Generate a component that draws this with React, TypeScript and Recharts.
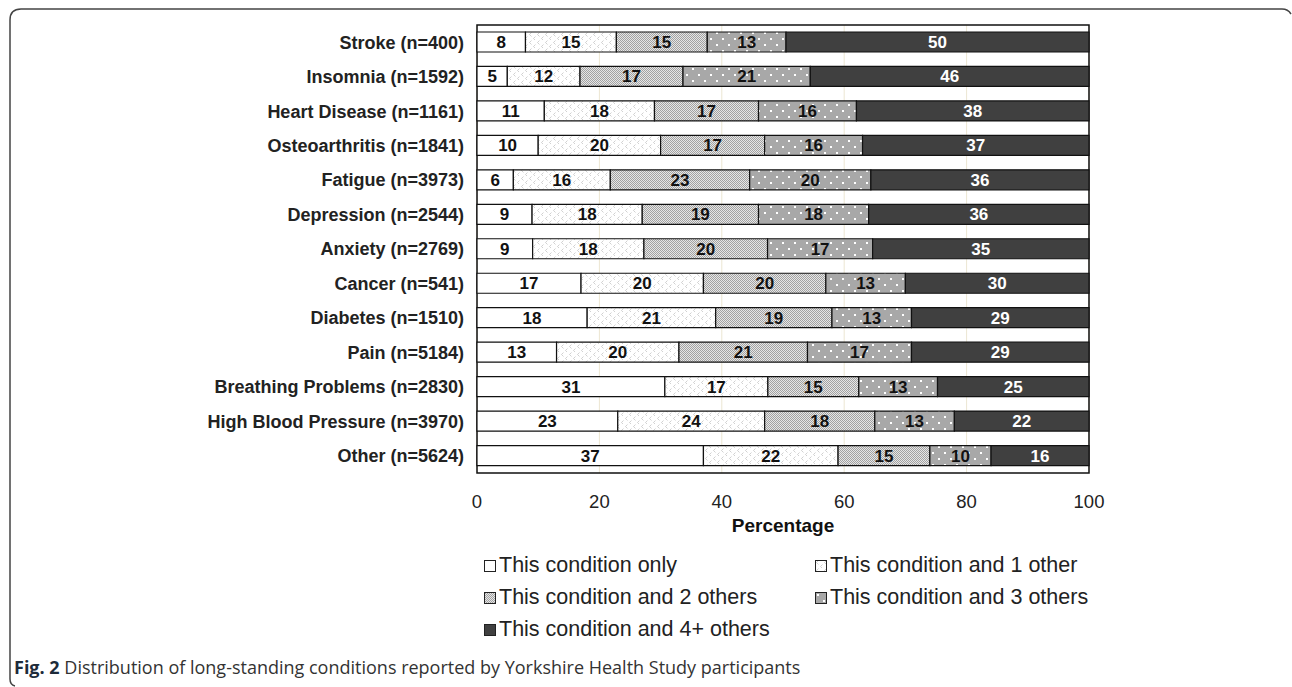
import React from 'react'
import {
  Bar,
  BarChart,
  CartesianGrid,
  LabelList,
  ReferenceArea,
  XAxis,
  YAxis
} from "recharts";

const conditions = [
  "Stroke (n=400)",
  "Insomnia (n=1592)",
  "Heart Disease (n=1161)",
  "Osteoarthritis (n=1841)",
  "Fatigue (n=3973)",
  "Depression (n=2544)",
  "Anxiety (n=2769)",
  "Cancer (n=541)",
  "Diabetes (n=1510)",
  "Pain (n=5184)",
  "Breathing Problems (n=2830)",
  "High Blood Pressure (n=3970)",
  "Other (n=5624)"
];

const onlyThis = [8, 5, 11, 10, 6, 9, 9, 17, 18, 13, 31, 23, 37];
const plusOne = [15, 12, 18, 20, 16, 18, 18, 20, 21, 20, 17, 24, 22];
const plusTwo = [15, 17, 17, 17, 23, 19, 20, 20, 19, 21, 15, 18, 15];
const plusThree = [13, 21, 16, 16, 20, 18, 17, 13, 13, 17, 13, 13, 10];
const plusFour = [50, 46, 38, 37, 36, 36, 35, 30, 29, 29, 25, 22, 16];

const seriesNames = [
  "This condition only",
  "This condition and 1 other",
  "This condition and 2 others",
  "This condition and 3 others",
  "This condition and 4+ others"
];

const xTicks = [0, 20, 40, 60, 80, 100];

const data = conditions.map((name, i) => ({
  name,
  s0: onlyThis[i],
  s1: plusOne[i],
  s2: plusTwo[i],
  s3: plusThree[i],
  s4: plusFour[i]
}));

const fills = ["#ffffff", "url(#pOne)", "url(#pTwo)", "url(#pThree)", "#404040"];
const font = "'Liberation Sans', Arial, sans-serif";

export default function App() {
  return (
    <div style={{ position: 'absolute', left: 0, top: 0, width: 1292, height: 687, background: '#fff', fontFamily: font }}>
      <svg width={1292} height={687} style={{ position: 'absolute', left: 0, top: 0 }}>
        <path
          d="M 15 686 Q 10 685 10 679 L 10 20 Q 10 9 21 9 L 1282 9 Q 1288 9 1291 14"
          fill="none"
          stroke="#444"
          strokeWidth={1.5}
        />
      </svg>
      <div style={{ position: 'absolute', left: 0, top: 0 }}>
        <BarChart
          width={1292}
          height={540}
          data={data}
          layout="vertical"
          stackOffset="expand"
          barSize={20}
          margin={{ top: 25, right: 203, left: 0, bottom: 5 }}
        >
          <defs>
            <pattern id="pOne" patternUnits="userSpaceOnUse" width={8} height={8}>
              <rect width={8} height={8} fill="#fff" />
              <path d="M3.5 0.5 L1.5 2.5 L3.5 4.5 M7.5 4.5 L5.5 6.5 L7.5 8.5" stroke="#bdbdbd" strokeWidth={0.7} fill="none" />
            </pattern>
            <pattern id="pTwo" patternUnits="userSpaceOnUse" width={2} height={2}>
              <rect width={2} height={2} fill="#e6e6e6" />
              <rect width={1} height={1} fill="#a2a2a2" />
              <rect x={1} y={1} width={1} height={1} fill="#a2a2a2" />
            </pattern>
            <pattern id="pThree" patternUnits="userSpaceOnUse" width={12} height={12}>
              <rect width={12} height={12} fill="#a8a8a8" />
              <rect x={2} y={2} width={2} height={2} fill="#fff" />
              <rect x={8} y={8} width={2} height={2} fill="#fff" />
            </pattern>
          </defs>
          <CartesianGrid horizontal={false} stroke="#ece6d2" />
          <XAxis
            type="number"
            domain={[0, 1]}
            ticks={xTicks.map(t => t / 100)}
            tickFormatter={(v: number) => String(Math.round(v * 100))}
            tickLine={false}
            axisLine={false}
            tickSize={0}
            tickMargin={22}
            height={62}
            tick={{ fill: '#222', fontSize: 18.5, fontFamily: font }}
            label={{ value: 'Percentage', position: 'insideBottom', offset: 3, fill: '#111', fontSize: 19, fontWeight: 'bold', fontFamily: font }}
          />
          <YAxis
            type="category"
            dataKey="name"
            width={477}
            tickLine={false}
            axisLine={false}
            tickMargin={7}
            interval={0}
            tick={{ fill: '#222', fontSize: 18, fontWeight: 'bold', fontFamily: font }}
          />
          {["s0", "s1", "s2", "s3", "s4"].map((key, i) => (
            <Bar
              key={key}
              dataKey={key}
              name={seriesNames[i]}
              stackId="a"
              fill={fills[i]}
              stroke="#111"
              strokeWidth={1.2}
              isAnimationActive={false}
            >
              <LabelList
                dataKey={key}
                position="center"
                fill={i === 4 ? '#fff' : '#111'}
                fontSize={17}
                fontWeight="bold"
                fontFamily={font}
              />
            </Bar>
          ))}
          <ReferenceArea x1={0} x2={1} fill="none" stroke="#111" strokeWidth={1.5} ifOverflow="visible" />
        </BarChart>
      </div>
      {seriesNames.map((s, i) => (
        <div
          key={s}
          style={{
            position: 'absolute',
            left: i % 2 === 0 ? 484 : 815,
            top: 553 + Math.floor(i / 2) * 32,
            display: 'flex',
            alignItems: 'center',
            fontSize: 21.5,
            color: '#222',
            whiteSpace: 'nowrap'
          }}
        >
          <svg width={12} height={12} style={{ marginRight: 3 }}>
            <rect x={0.5} y={0.5} width={11} height={11} fill={fills[i]} stroke="#222" strokeWidth={1} />
          </svg>
          {s}
        </div>
      ))}
      <div style={{ position: 'absolute', left: 14, top: 655, fontFamily: "'Open Sans', sans-serif", fontSize: 18, color: '#333', whiteSpace: 'nowrap' }}>
        <b style={{ color: '#1d2b3a' }}>Fig. 2</b> Distribution of long-standing conditions reported by Yorkshire Health Study participants
      </div>
    </div>
  );
}
